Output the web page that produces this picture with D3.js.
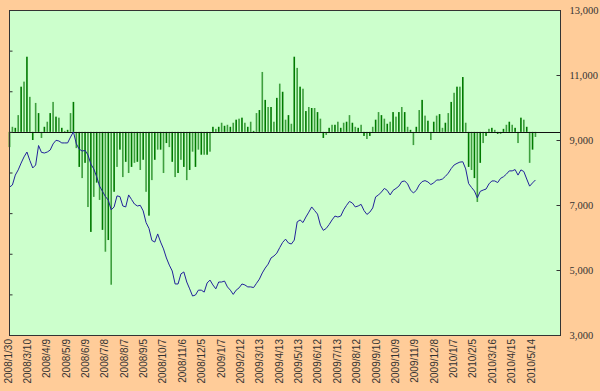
<!DOCTYPE html>
<html><head><meta charset="utf-8">
<script src="https://cdn.jsdelivr.net/npm/d3@7"></script>
<style>body{margin:0;background:#ffcc99;} svg{display:block}</style>
</head><body><svg id="c" width="600" height="391"></svg>
<script>
// ---- data ----
const dateLabels = ["2008/1/30","2008/3/10","2008/4/9","2008/5/9","2008/6/9","2008/7/8","2008/8/7","2008/9/5","2008/10/7","2008/11/6","2008/12/5","2009/1/7","2009/2/12","2009/3/13","2009/4/13","2009/5/13","2009/6/12","2009/7/13","2009/8/12","2009/9/10","2009/10/9","2009/11/9","2009/12/8","2010/1/7","2010/2/5","2010/3/16","2010/4/15","2010/5/14"];
const labelEvery = 20;     // trading days between date labels
const sampleStep = 3;      // trading days between samples below
const totalDays = 570;     // category slots on the x axis
const indexValues = [7550,7615,7920,8080,8290,8480,8630,8370,8140,8230,8830,8620,8600,8630,8690,8880,8990,8970,8910,8910,
8910,9090,9250,8880,8720,8660,8680,8540,8260,8110,7870,7580,7420,7260,7150,6850,6940,7280,7260,6970,
6940,7310,7170,7030,6970,6990,6820,6460,6280,5910,5860,6110,5860,5650,5370,5150,4970,4570,4570,4880,
4940,4630,4420,4200,4230,4380,4380,4320,4600,4690,4540,4420,4630,4630,4660,4480,4380,4250,4380,4450,
4570,4540,4480,4480,4460,4590,4720,4910,5060,5180,5370,5430,5520,5690,5850,5950,5830,5800,5920,6480,
6540,6460,6630,6780,6940,6830,6720,6380,6220,6280,6400,6540,6660,6630,6660,6850,6990,7110,7060,6940,
6970,7020,6830,6710,6780,6910,7250,7310,7400,7510,7450,7310,7450,7510,7580,7720,7740,7650,7460,7370,
7450,7620,7720,7750,7710,7630,7680,7770,7770,7800,7880,7980,8120,8230,8280,8320,8330,8110,7660,7540,
7430,7220,7420,7460,7490,7650,7740,7740,7690,7820,7870,7950,8050,8050,8090,7920,8080,8030,7800,7580,
7680,7770];
const barValues = [-30,10,8,33,89,99,148,69,-16,57,37,-12,10,20,37,59,30,28,8,2,
4,37,59,-32,-69,-91,-61,-148,-197,-128,-100,-134,-193,-236,-213,-301,-118,-69,-35,-89,
-59,-81,-69,-61,-59,-75,-55,-118,-165,-95,-55,-35,-35,-81,-22,-30,-59,-89,-81,-55,
-69,-95,-75,-39,-69,-35,-45,-45,-45,-39,10,6,10,18,12,14,10,18,24,26,
28,18,10,20,2,37,43,118,63,49,49,20,67,95,79,24,33,16,148,126,
89,85,41,49,47,47,39,26,-12,-6,8,14,14,20,8,18,20,33,18,10,
8,14,-8,-14,-8,10,24,39,33,26,16,20,39,30,39,49,39,10,4,-26,
10,43,63,32,22,-16,20,32,35,8,18,37,59,77,89,89,108,18,-69,-75,
-91,-138,-61,-22,-8,6,8,4,-4,-4,6,14,20,14,8,-22,28,24,10,-61,
-35,-10];
const rightTicks = [3000,5000,7000,9000,11000,13000];
const leftTicks = [-400,-320,-240,-160,-80,0,80,160,240];

// ---- layout ----
const svg = d3.select("#c");
const L = 9, R = 561, T = 10, B = 335;
svg.append("rect").attr("width",600).attr("height",391).attr("fill","#ffcc99");
svg.append("rect").attr("x",L).attr("y",T).attr("width",R-L).attr("height",B-T).attr("fill","#ccffcc");

const x = d3.scaleLinear().domain([0,totalDays]).range([L+0.5, L+0.5+totalDays*0.9686]);
const yR = d3.scaleLinear().domain([3000,13000]).range([B,T]);
const yL = d3.scaleLinear().domain([-400,240]).range([B,T]);

// bars
svg.append("g").selectAll("rect").data(barValues).join("rect")
  .attr("x",(d,i)=>x(i*sampleStep)-0.8)
  .attr("width",1.6)
  .attr("y",d=>Math.min(yL(d),yL(0)))
  .attr("height",d=>Math.abs(yL(d)-yL(0)))
  .attr("fill",(d,i)=> i%2 ? "#3f9f3f" : "#007a00");

// baseline
svg.append("line").attr("x1",L).attr("x2",R).attr("y1",Math.round(yL(0))+0.5).attr("y2",Math.round(yL(0))+0.5)
  .attr("stroke","#111").attr("stroke-width",1);

// index line
svg.append("path").datum(indexValues)
  .attr("d", d3.line().x((d,i)=>x(i*sampleStep)).y(d=>yR(d)))
  .attr("fill","none").attr("stroke","#22229a").attr("stroke-width",1);

// border
svg.append("rect").attr("x",L+0.5).attr("y",T+0.5).attr("width",R-L-1).attr("height",B-T)
  .attr("fill","none").attr("stroke","#333").attr("stroke-width",1);

// left axis (ticks only)
const gl = svg.append("g").attr("transform",`translate(${L+0.5},0)`)
  .call(d3.axisRight(yL).tickValues(leftTicks).tickSize(3).tickFormat(""));
gl.select(".domain").remove();
gl.selectAll("line").attr("stroke","#333");

// right axis
const gr = svg.append("g").attr("transform",`translate(${R-0.5},0)`)
  .call(d3.axisRight(yR).tickValues(rightTicks).tickSizeInner(-4).tickSizeOuter(0).tickPadding(9).tickFormat(d3.format(",")));
gr.select(".domain").remove();
gr.selectAll("line").attr("stroke","#333");
gr.selectAll("text").attr("font-family","'Liberation Serif', serif").attr("font-size","10.5px").attr("fill","#333");

// x labels
svg.append("g").selectAll("text").data(dateLabels).join("text")
  .attr("transform",(d,i)=>`translate(${x(i*labelEvery)-1.5},339) rotate(-90)`)
  .attr("text-anchor","end").attr("dy","0.35em")
  .attr("font-family","'Liberation Sans', Arial, sans-serif").attr("font-size","10px").attr("fill","#333")
  .text(d=>d);
</script></body></html>
